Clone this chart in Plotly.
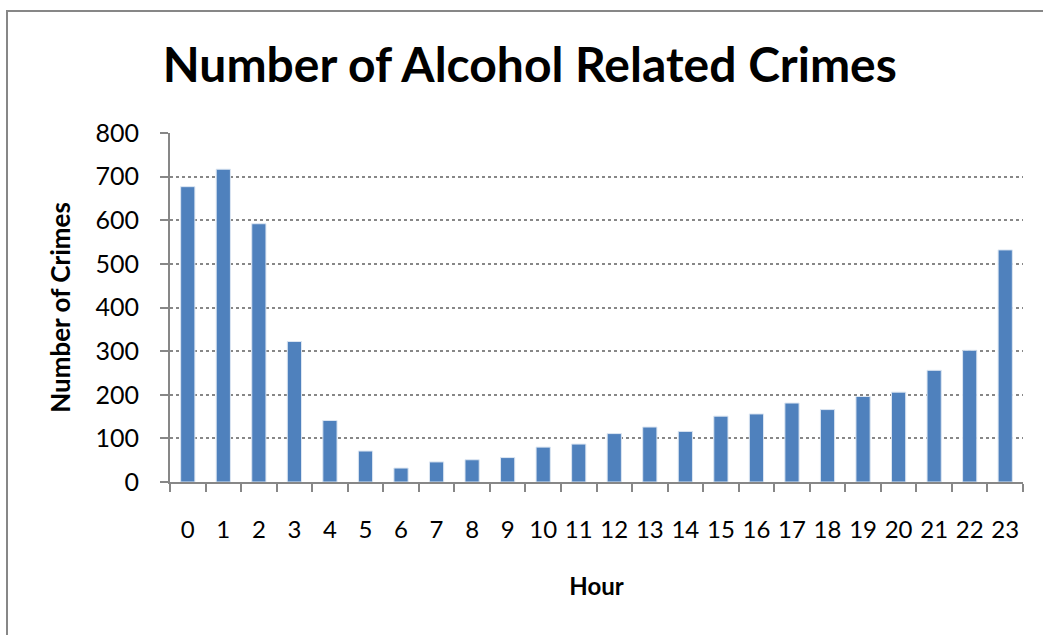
import plotly.graph_objects as go

hours = [str(h) for h in range(24)]
crimes = [677, 717, 592, 322, 141, 71, 32, 46, 51, 56, 80, 87,
          111, 126, 116, 151, 156, 181, 166, 196, 206, 256, 302, 532]
y_ticks = [0, 100, 200, 300, 400, 500, 600, 700, 800]

title_text = "Number of Alcohol Related Crimes"
x_title = "Hour"
y_title = "Number of Crimes"

W, H = 1043, 635
ml, mr, mt, mb = 170, 20, 133, 153
pw = W - ml - mr
ph = H - mt - mb

fig = go.Figure()
fig.add_trace(go.Bar(
    x=hours, y=crimes, width=0.4,
    marker=dict(color="#4F81BD", line=dict(color="#DCE6F2", width=1)),
))

gray = "#878787"
font_family = "Lato, 'Open Sans', sans-serif"

# outer chart frame (partially cropped in the reference)
fig.add_shape(type="rect", xref="paper", yref="paper",
              x0=(7 - ml) / pw, x1=(W + 20 - ml) / pw,
              y0=(H - mb - (H + 20)) / ph, y1=(H - mb - 11) / ph,
              line=dict(color=gray, width=2), layer="below")

fig.update_layout(
    width=W, height=H,
    margin=dict(l=ml, r=mr, t=mt, b=mb, autoexpand=False),
    paper_bgcolor="white", plot_bgcolor="white",
    showlegend=False,
    font=dict(family=font_family, color="black", size=24),
    title=dict(text="<b>" + title_text + "</b>", x=0.508, xanchor="center",
               y=1 - 65 / H, yanchor="middle", xref="container", yref="container",
               font=dict(size=48, color="black", family=font_family)),
)
fig.update_xaxes(
    type="category", tickson="boundaries", ticks="outside", ticklen=8,
    tickcolor=gray, tickwidth=2, tickangle=0,
    showline=True, linecolor=gray, linewidth=2,
    showgrid=False, ticklabelstandoff=25,
    tickfont=dict(size=24, family=font_family),
    title=dict(text="<b>" + x_title + "</b>", standoff=36,
               font=dict(size=24, family=font_family)),
)
fig.update_yaxes(
    range=[0, 800], tickvals=y_ticks, ticks="outside", ticklen=8,
    tickcolor=gray, tickwidth=2,
    showline=True, linecolor=gray, linewidth=2,
    showgrid=True, gridcolor=gray, griddash="dot", gridwidth=1.5,
    zeroline=False, ticklabelstandoff=16,
    tickfont=dict(size=25, family=font_family),
    title=dict(text="<b>" + y_title + "</b>", standoff=17,
               font=dict(size=26, family=font_family)),
)

fig.write_html("out.html", config={"displayModeBar": False},
               post_script="document.body.style.margin='0';document.body.style.overflow='hidden';")
